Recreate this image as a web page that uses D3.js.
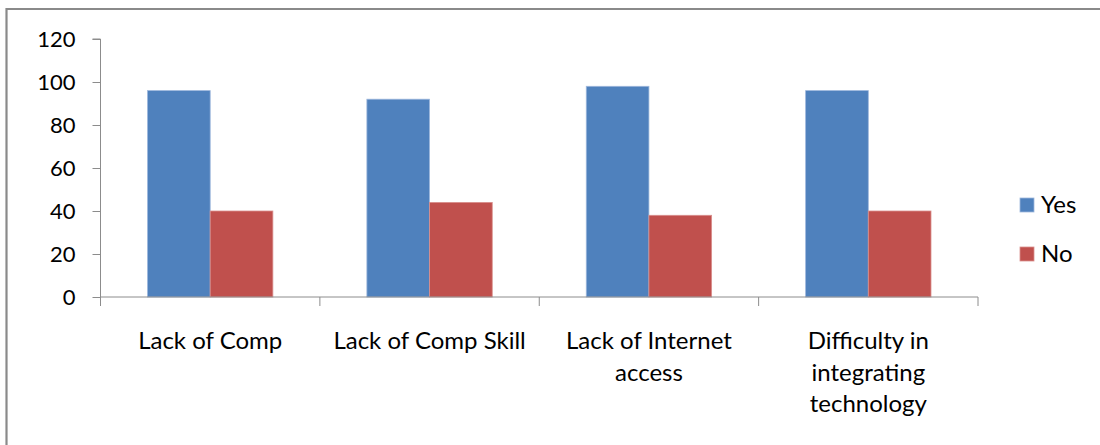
<!DOCTYPE html>
<html>
<head>
<meta charset="utf-8">
<script src="https://cdn.jsdelivr.net/npm/d3@7"></script>
<style>
  html, body { margin: 0; padding: 0; background: #fff; }
  svg { display: block; }
  text { font-family: Lato, "Open Sans", sans-serif; fill: #000; }
</style>
</head>
<body>
<svg id="chart" width="1100" height="445"></svg>
<script>
// Survey responses per barrier
const categories = ["Lack of Comp", "Lack of Comp Skill", "Lack of Internet\naccess", "Difficulty in\nintegrating\ntechnology"];
const seriesNames = ["Yes", "No"];
const yesValues = [96, 92, 98, 96];
const noValues = [40, 44, 38, 40];
const yTicks = [0, 20, 40, 60, 80, 100, 120];
const colors = ["#4F81BD", "#C0504D"];
const edgeColors = ["#9DB7DC", "#D98F8D"];

const svg = d3.select("#chart");
const W = 1100, H = 445;

// chart frame (top and left edges visible)
svg.append("line").attr("x1", 6.5).attr("x2", W).attr("y1", 9).attr("y2", 9)
  .attr("stroke", "#8a8a8a").attr("stroke-width", 2.2);
svg.append("line").attr("x1", 6.5).attr("x2", 6.5).attr("y1", 8).attr("y2", H)
  .attr("stroke", "#8a8a8a").attr("stroke-width", 2.2);

const plot = { left: 100.5, right: 978, top: 39, bottom: 297 };

const x0 = d3.scaleBand().domain(categories).range([plot.left, plot.right]).paddingInner(0).paddingOuter(0);
const step = x0.bandwidth();
// two bars per group with a gap of 1.5 bar widths
const barW = step / 3.5;

const y = d3.scaleLinear().domain([0, 120]).range([plot.bottom, plot.top]);

const rows = categories.map((c, i) => ({ cat: c, values: [yesValues[i], noValues[i]] }));

// bars
const groups = svg.append("g").selectAll("g").data(rows).join("g")
  .attr("transform", d => `translate(${x0(d.cat)},0)`);
groups.selectAll("rect").data(d => d.values.map((v, k) => ({ v, k }))).join("rect")
  .attr("x", d => barW * 0.75 + d.k * barW)
  .attr("y", d => y(d.v))
  .attr("width", barW)
  .attr("height", d => plot.bottom - y(d.v))
  .attr("fill", d => colors[d.k])
  .attr("stroke", d => edgeColors[d.k])
  .attr("stroke-width", 0.8);

// y axis
const yAxis = d3.axisLeft(y).tickValues(yTicks).tickSize(8).tickPadding(17);
const gy = svg.append("g").attr("transform", `translate(${plot.left},0)`).call(yAxis);
gy.select(".domain").attr("d", `M-8,${plot.top}H0V${plot.bottom + 9}`);
gy.selectAll("line").attr("stroke", "#8c8c8c");
gy.select(".domain").attr("stroke", "#8c8c8c");
gy.selectAll("text").style("font-size", "22px").attr("fill", "#000")
  .style("font-family", "Lato, 'Open Sans', sans-serif");

// x axis: baseline with ticks on band boundaries
const gx = svg.append("g").attr("transform", `translate(0,${plot.bottom})`);
gx.append("line").attr("x1", plot.left).attr("x2", plot.right).attr("y1", 0).attr("y2", 0)
  .attr("stroke", "#8c8c8c");
const bounds = categories.map(c => x0(c)).concat([plot.right]);
gx.selectAll("line.tick").data(bounds).join("line").attr("class", "tick")
  .attr("x1", d => d).attr("x2", d => d).attr("y1", 0).attr("y2", 9)
  .attr("stroke", "#8c8c8c");

// category labels
const lab = svg.append("g").selectAll("text").data(categories).join("text")
  .attr("x", d => x0(d) + step / 2)
  .attr("y", 349)
  .attr("text-anchor", "middle")
  .style("font-size", "24px");
lab.selectAll("tspan").data(d => d.split("\n")).join("tspan")
  .attr("x", function () { return d3.select(this.parentNode).attr("x"); })
  .attr("dy", (d, i) => i === 0 ? 0 : 31.5)
  .text(d => d);

// legend
const leg = svg.append("g").selectAll("g").data(seriesNames).join("g")
  .attr("transform", (d, i) => `translate(1020,${198 + i * 49})`);
leg.append("rect").attr("width", 14).attr("height", 14)
  .attr("fill", (d, i) => colors[i]).attr("stroke", (d, i) => edgeColors[i]).attr("stroke-width", 0.8);
leg.append("text").attr("x", 21).attr("y", 15).style("font-size", "24px").text(d => d);
</script>
</body>
</html>
